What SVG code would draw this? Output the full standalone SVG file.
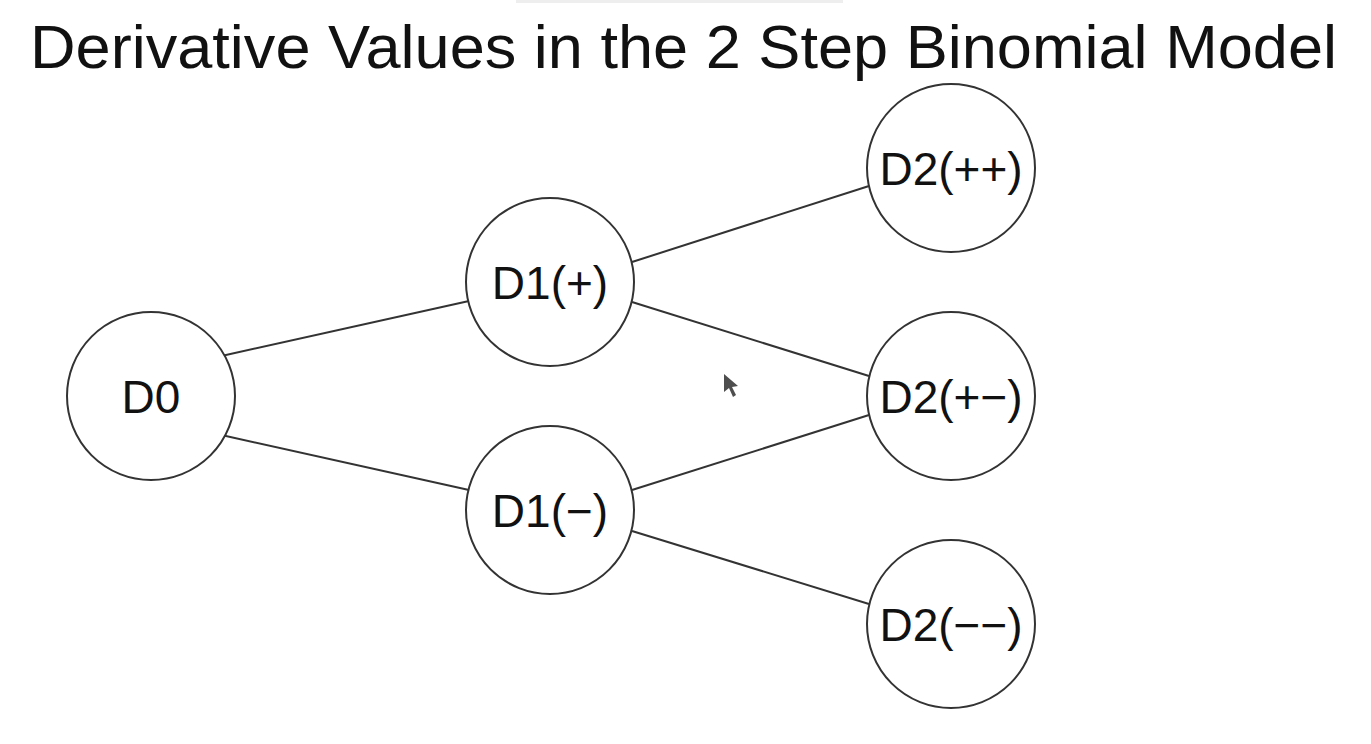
<svg xmlns="http://www.w3.org/2000/svg" width="1371" height="744" viewBox="0 0 1371 744">
<style>
.node circle{fill:#fff;stroke:#333;stroke-width:2}
.node text{font-family:"Liberation Sans",Arial,Helvetica,sans-serif;font-size:46px;fill:#111;text-anchor:middle}
#connectors line{stroke:#333;stroke-width:2}
.title{font-family:"Liberation Sans",Arial,Helvetica,sans-serif;font-size:62px;fill:#111}
</style>
<rect width="1371" height="744" fill="#fff"/>
<rect x="516" y="0" width="327" height="3" fill="#eeeeee"/>
<text class="title" x="30" y="68" textLength="1307" lengthAdjust="spacingAndGlyphs">Derivative Values in the 2 Step Binomial Model</text>
<g id="connectors">
<line x1="217" y1="357" x2="469" y2="301"/>
<line x1="217" y1="434" x2="469" y2="490"/>
<line x1="632" y1="262" x2="869" y2="186"/>
<line x1="632" y1="302" x2="869" y2="376"/>
<line x1="632" y1="490" x2="869" y2="415"/>
<line x1="632" y1="531" x2="869" y2="604"/>
</g>
<g id="node-D0" class="node"><circle cx="151" cy="396" r="84"/><text x="151" y="413">D0</text></g>
<g id="node-D1p" class="node"><circle cx="550" cy="282" r="84"/><text x="550" y="299">D1(+)</text></g>
<g id="node-D1m" class="node"><circle cx="550" cy="510" r="84"/><text x="550" y="527">D1(−)</text></g>
<g id="node-D2pp" class="node"><circle cx="951" cy="168" r="84"/><text x="951" y="185">D2(++)</text></g>
<g id="node-D2pm" class="node"><circle cx="951" cy="396" r="84"/><text x="951" y="413">D2(+−)</text></g>
<g id="node-D2mm" class="node"><circle cx="951" cy="624" r="84"/><text x="951" y="641">D2(−−)</text></g>
<polygon points="724,374 724,392 729,388 733,397 736,395 732,387 738,386" fill="#222" opacity="0.8"/>
</svg>
